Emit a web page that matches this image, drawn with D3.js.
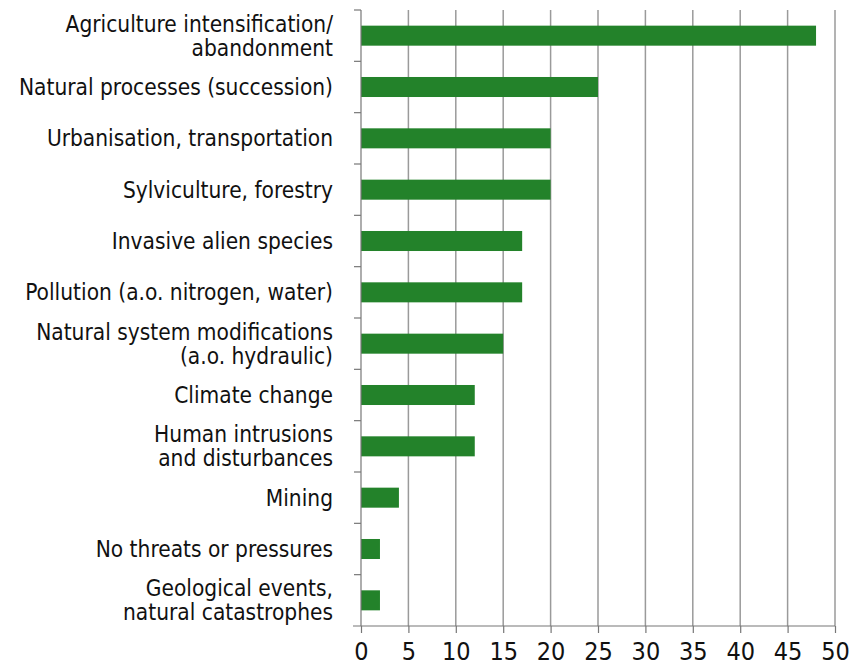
<!DOCTYPE html>
<html><head><meta charset="utf-8">
<script src="https://cdn.jsdelivr.net/npm/d3@7"></script>
<style>
body{margin:0;background:#fff;}
text{font-family:"DejaVu Sans Condensed","DejaVu Sans",sans-serif;fill:#111;}
</style></head>
<body><svg id="c" width="867" height="669"></svg>
<script>
const categories = [
  ["Agriculture intensification/","abandonment"],
  ["Natural processes (succession)"],
  ["Urbanisation, transportation"],
  ["Sylviculture, forestry"],
  ["Invasive alien species"],
  ["Pollution (a.o. nitrogen, water)"],
  ["Natural system modifications","(a.o. hydraulic)"],
  ["Climate change"],
  ["Human intrusions","and disturbances"],
  ["Mining"],
  ["No threats or pressures"],
  ["Geological events,","natural catastrophes"]
];
const values = [48, 25, 20, 20, 17, 17, 15, 12, 12, 4, 2, 2];
const xTicks = [0,5,10,15,20,25,30,35,40,45,50];

const svg = d3.select("#c");
const mLeft = 361, mRight = 835, mTop = 10, mBottom = 626;
const x = d3.scaleLinear().domain([0,50]).range([mLeft,mRight]);
const y = d3.scaleBand().domain(d3.range(categories.length)).range([mTop,mBottom]).paddingInner(0.61).paddingOuter(0.305);

// gridlines
svg.append("g").selectAll("line").data(xTicks.slice(1)).join("line")
  .attr("x1",d=>x(d)).attr("x2",d=>x(d)).attr("y1",mTop).attr("y2",mBottom)
  .attr("stroke","#9a9a9a").attr("stroke-width",1.5);

// bars
svg.append("g").selectAll("rect").data(values).join("rect")
  .attr("x",x(0)).attr("y",(d,i)=>y(i)).attr("width",d=>x(d)-x(0)).attr("height",y.bandwidth())
  .attr("fill","#23822a");

// y axis line + ticks at band boundaries
const step = y.step();
svg.append("line").attr("x1",mLeft).attr("x2",mLeft).attr("y1",mTop).attr("y2",mBottom).attr("stroke","#777").attr("stroke-width",1.2);
svg.append("g").selectAll("line").data(d3.range(categories.length)).join("line")
  .attr("x1",mLeft-7).attr("x2",mLeft).attr("y1",(d,i)=>mTop+i*step).attr("y2",(d,i)=>mTop+i*step)
  .attr("stroke","#777").attr("stroke-width",1.2);

// x axis
const xa = svg.append("g").attr("transform",`translate(0,${mBottom})`)
  .call(d3.axisBottom(x).tickValues(xTicks).tickSize(7).tickPadding(9).tickSizeOuter(0));
xa.select(".domain").attr("d",`M${mLeft-8},0H${mRight}`).attr("stroke","#777").attr("stroke-width",1.2);
xa.selectAll(".tick line").attr("stroke","#777").attr("stroke-width",1.2);
xa.selectAll(".tick text").attr("font-size",25).attr("font-family",'"DejaVu Sans Condensed",sans-serif').attr("fill","#111");

// category labels
const lab = svg.append("g").selectAll("text").data(categories).join("text")
  .attr("text-anchor","end").attr("font-size",22.5)
  .attr("transform",(d,i)=>`translate(333,${y(i)+y.bandwidth()/2})`);
lab.each(function(d){
  const t = d3.select(this);
  const lh = 24;
  const off = -(d.length-1)*lh/2;
  d.forEach((s,k)=>t.append("tspan").attr("x",0).attr("y",off+k*lh).attr("dy","0.36em").text(s));
});
</script></body></html>
